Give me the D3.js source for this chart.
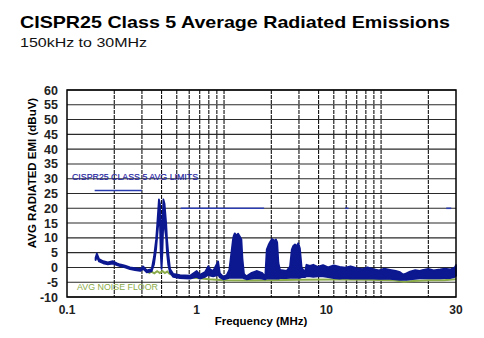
<!DOCTYPE html>
<html><head><meta charset="utf-8">
<script src="https://cdn.jsdelivr.net/npm/d3@7"></script>
<style>
html,body{margin:0;padding:0;background:#fff;}
svg{display:block;font-family:"Liberation Sans",Arial,sans-serif;}
</style></head>
<body>
<svg id="c" width="484" height="338"></svg>
<script>
// ---- data ----
const emiFreq = [0.152,0.155,0.160,0.170,0.182,0.196,0.208,0.218,0.234,0.252,0.271,0.292,0.306,0.322,0.346,0.358,0.369,0.376,0.382,0.385,0.391,0.395,0.400,0.405,0.411,0.418,0.428,0.433,0.441,0.453,0.475,0.524,0.607,0.670,0.703,0.756,0.794,0.814,0.853,0.917,0.941,0.990,1.04,1.08,1.12,1.14,1.15,1.17,1.20,1.23,1.26,1.29,1.31,1.34,1.39,1.50,1.61,1.74,1.83,1.87,1.92,1.96,2.02,2.10,2.14,2.18,2.22,2.27,2.50,2.63,2.70,2.76,2.83,2.90,2.97,3.04,3.12,3.27,3.35,3.52,3.7,3.95,4.27,4.6,5.0,5.45,5.9,6.4,6.98,7.6,8.2,8.93,9.7,10.5,11.4,12.4,13.2,13.8,14.5,15.3,16.5,17.6,18.6,20.0,21.6,23.8,25.5,27.5,28.7,29.5,30];
const emiHi = [3.3,4.7,2.8,2.1,1.7,2.1,1.4,1.0,0.6,0.0,-0.2,-0.5,0.3,-1.0,-0.6,3.6,9.3,15,20.5,23,21.5,15,0.5,15,23,21.5,15,10,5,-0.5,-2.2,-2.6,-2.8,-1.2,-2.5,-1.6,0.4,-0.6,-1.2,2.0,-2.0,-3.2,-2.6,-0.8,6,9.5,10.5,11.5,10.8,11.4,10.5,9.5,3,-2.2,-3.0,-1.8,-1.2,-1.8,-3.0,6,7.6,8.5,9.6,9.0,9.5,8.5,1.5,-0.8,-1.2,0.3,6,7.3,7.8,7.2,8.2,6.5,0,-1.6,0.9,0.5,0.9,0.2,0.8,0.0,0.7,0.2,-0.1,0.4,-0.2,-0.6,0.0,-0.6,-1.0,-0.4,-0.8,-1.2,-1.6,-2.4,-2.0,-1.4,-0.9,-1.2,-0.8,-0.5,-1.0,-0.7,-0.4,-0.7,-0.3,0.0,0.8];
const emiLo = [2.5,3.6,2.0,1.4,1.0,1.3,0.8,0.4,0.0,-0.6,-0.9,-1.2,-0.5,-1.7,-1.3,1,6,11,15,17,14,5,-0.5,5,16,14,10,5,1,-1.8,-3.2,-3.6,-3.8,-3.2,-3.8,-3.2,-2.5,-2.8,-3,-2.5,-3.4,-4.0,-3.8,-3.5,-3.5,-3.5,-3.5,-3.5,-3.5,-3.5,-3.5,-3.5,-3.5,-3.7,-4,-3.8,-3.6,-3.8,-4,-3.8,-3.8,-3.8,-3.8,-3.8,-3.8,-3.8,-3.8,-3.6,-3.6,-3.5,-3.5,-3.5,-3.5,-3.5,-3.5,-3.5,-3.3,-3.3,-3.0,-3.0,-3.2,-3.0,-3.0,-3.3,-3.6,-3.8,-3.6,-3.8,-3.8,-3.7,-3.8,-3.8,-3.9,-3.8,-3.9,-4.0,-4.2,-4.2,-4.2,-4.0,-3.9,-3.7,-3.7,-3.7,-3.7,-3.7,-3.6,-3.6,-3.4,-3.2,-2.8];
const noiseFreq = [0.33,0.345,0.36,0.375,0.39,0.405,0.42,0.435,0.45,0.47,0.55,0.65,0.8,1.0,1.5,2.0,3.0,5.0,8.0,12,14,16,20,25,30];
const noiseDb = [-2.0,-1.4,-2.0,-1.3,-1.9,-1.2,-1.9,-1.4,-2.2,-2.5,-3.0,-3.5,-4.0,-4.3,-4.4,-4.3,-4.2,-4.1,-4.2,-4.3,-4.8,-4.6,-4.3,-4.3,-4.0];
const limitStart = [0.15,0.53,5.9,26];
const limitEnd = [0.3,1.8,6.2,28];
const limitDb = [26,20,20,20];
const yTicks = d3.range(-10,61,5);
const gridFreqs = [0.2,0.3,0.4,0.5,0.6,0.7,0.8,0.9,1,2,3,4,5,6,7,8,9,10,20];
const xTickLabels = ["0.1","1","10","30"];

// ---- layout ----
const svg = d3.select("#c");
const L=67, R=456, T=90, B=297;
const x = d3.scaleLog().domain([0.1,30]).range([L,R]);
const y = d3.scaleLinear().domain([-10,60]).range([B,T]);
const xLab = d3.scalePoint().domain(xTickLabels).range([L,R]);

// titles
svg.append("text").attr("x",20).attr("y",28).attr("font-size",17).attr("font-weight","bold").attr("fill","#000")
  .attr("textLength",430).attr("lengthAdjust","spacingAndGlyphs")
  .text("CISPR25 Class 5 Average Radiated Emissions");
svg.append("text").attr("x",20).attr("y",47).attr("font-size",13.5).attr("fill","#111")
  .attr("textLength",127).attr("lengthAdjust","spacingAndGlyphs")
  .text("150kHz to 30MHz");

// grid
const g = svg.append("g");
g.selectAll(".hg").data(yTicks).join("line")
  .attr("x1",L).attr("x2",R).attr("y1",d=>y(d)).attr("y2",d=>y(d))
  .attr("stroke","#2a2a2a").attr("stroke-width",1.1);
g.selectAll(".vg").data(gridFreqs).join("line")
  .attr("x1",d=>x(d)).attr("x2",d=>x(d)).attr("y1",T).attr("y2",B)
  .attr("stroke","#111").attr("stroke-width",1.1).attr("stroke-dasharray","4,1");

// y labels
svg.selectAll(".yl").data(yTicks).join("text")
  .attr("x",L-9).attr("y",d=>y(d)+4.5).attr("text-anchor","end")
  .attr("font-size",12.5).attr("font-weight","bold").attr("fill","#222").text(d=>d);
// x labels
svg.selectAll(".xl").data(xTickLabels).join("text")
  .attr("x",d=>xLab(d)).attr("y",314).attr("text-anchor","middle")
  .attr("font-size",12).attr("font-weight","bold").attr("fill","#222").text(d=>d);

// axis titles
svg.append("text").attr("transform","translate(36,173) rotate(-90)").attr("text-anchor","middle")
  .attr("font-size",11.5).attr("font-weight","bold").attr("fill","#000").text("AVG RADIATED EMI (dBuV)");
svg.append("text").attr("x",261).attr("y",325).attr("text-anchor","middle")
  .attr("font-size",11.5).attr("font-weight","bold").attr("fill","#000").text("Frequency (MHz)");

// limit lines
svg.selectAll(".lim").data(limitDb).join("line")
  .attr("x1",(d,i)=>x(limitStart[i])).attr("x2",(d,i)=>x(limitEnd[i]))
  .attr("y1",d=>y(d)).attr("y2",d=>y(d))
  .attr("stroke","#2a3cb0").attr("stroke-width",1.6);

// noise floor
const noisePts = noiseFreq.map((f,i)=>[f,noiseDb[i]]);
svg.append("path").datum(noisePts)
  .attr("d",d3.line().x(d=>x(d[0])).y(d=>y(d[1])))
  .attr("fill","none").attr("stroke","#8aab48").attr("stroke-width",2);

// emissions envelope
const emiPts = emiFreq.map((f,i)=>({f,hi:emiHi[i],lo:emiLo[i]}));
svg.append("path").datum(emiPts)
  .attr("d",d3.area().x(d=>x(d.f)).y0(d=>y(d.lo)).y1(d=>y(d.hi)))
  .attr("fill","#0c1890").attr("stroke","#0c1890").attr("stroke-width",1.8).attr("stroke-linejoin","round");

// annotations
svg.append("text").attr("x",72).attr("y",180).attr("font-size",9.5).attr("fill","#2424a0")
  .attr("stroke","#2424a0").attr("stroke-width",0.2)
  .attr("textLength",126).attr("lengthAdjust","spacingAndGlyphs").text("CISPR25 CLASS 5 AVG LIMITS");
svg.append("text").attr("x",77).attr("y",289.5).attr("font-size",9).attr("fill","#8aab48")
  .attr("textLength",81).attr("lengthAdjust","spacingAndGlyphs").text("AVG NOISE FLOOR");

// frame
svg.append("rect").attr("x",L).attr("y",T).attr("width",R-L).attr("height",B-T)
  .attr("fill","none").attr("stroke","#000").attr("stroke-width",1.5);
</script>
</body></html>
